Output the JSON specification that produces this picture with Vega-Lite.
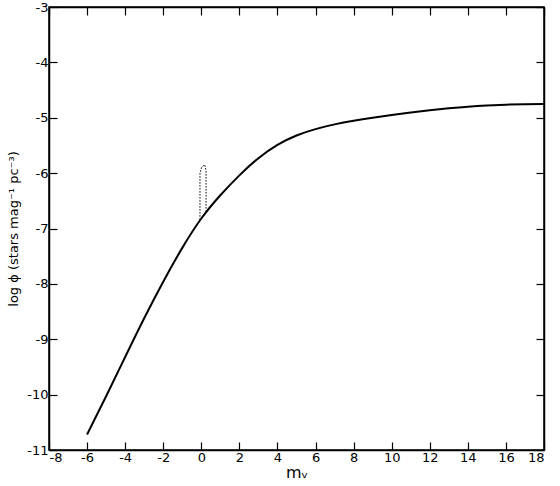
{
  "$schema": "https://vega.github.io/schema/vega-lite/v6.json",
  "autosize": {"type": "none"},
  "width": 495,
  "height": 443,
  "padding": {"left": 49, "top": 7, "right": 16, "bottom": 36},
  "background": "white",
  "config": {
    "view": {"stroke": "black", "strokeWidth": 1.5},
    "axis": {
      "labelFont": "DejaVu Sans",
      "titleFont": "DejaVu Sans",
      "labelFontSize": 13,
      "titleFontSize": 13,
      "titleFontWeight": "normal",
      "labelColor": "black",
      "titleColor": "black",
      "domainColor": "black",
      "tickColor": "black",
      "grid": false,
      "tickSize": -8,
      "tickWidth": 1.2,
      "domainWidth": 1.5,
      "labelExpr": "replace(datum.label, '−', '-')"
    }
  },
  "datasets": {
    "curve": [
      {"mv": -6, "logphi": -10.72},
      {"mv": -5, "logphi": -10.03},
      {"mv": -4, "logphi": -9.32},
      {"mv": -3, "logphi": -8.62},
      {"mv": -2, "logphi": -7.96},
      {"mv": -1, "logphi": -7.35},
      {"mv": 0, "logphi": -6.82},
      {"mv": 1, "logphi": -6.40},
      {"mv": 2, "logphi": -6.04},
      {"mv": 3, "logphi": -5.73},
      {"mv": 4, "logphi": -5.49},
      {"mv": 5, "logphi": -5.32},
      {"mv": 6, "logphi": -5.205},
      {"mv": 7, "logphi": -5.12},
      {"mv": 8, "logphi": -5.055},
      {"mv": 9, "logphi": -5.0},
      {"mv": 10, "logphi": -4.95},
      {"mv": 11, "logphi": -4.905},
      {"mv": 12, "logphi": -4.865},
      {"mv": 13, "logphi": -4.83},
      {"mv": 14, "logphi": -4.80},
      {"mv": 15, "logphi": -4.778},
      {"mv": 16, "logphi": -4.763},
      {"mv": 17, "logphi": -4.754},
      {"mv": 18, "logphi": -4.75}
    ],
    "bump": [
      {"order": 1, "mv": -0.07, "logphi": -6.84},
      {"order": 2, "mv": -0.07, "logphi": -6.0},
      {"order": 3, "mv": 0.02, "logphi": -5.89},
      {"order": 4, "mv": 0.18, "logphi": -5.85},
      {"order": 5, "mv": 0.25, "logphi": -5.95},
      {"order": 6, "mv": 0.25, "logphi": -6.68}
    ]
  },
  "layer": [
    {
      "data": {"name": "curve"},
      "mark": {"type": "line", "color": "black", "strokeWidth": 2, "interpolate": "natural"},
      "encoding": {
        "x": {
          "field": "mv", "type": "quantitative",
          "scale": {"domain": [-8, 18], "nice": false, "zero": false},
          "axis": {"orient": "bottom", "values": [-8,-6,-4,-2,0,2,4,6,8,10,12,14,16,18], "labelPadding": 9, "title": "mᵥ", "titlePadding": 0, "titleFontSize": 16}
        },
        "y": {
          "field": "logphi", "type": "quantitative",
          "scale": {"domain": [-11, -3], "nice": false, "zero": false},
          "axis": {"orient": "left", "values": [-11,-10,-9,-8,-7,-6,-5,-4,-3], "labelPadding": 9, "title": "log ϕ (stars mag⁻¹ pc⁻³)", "titlePadding": 6}
        }
      }
    },
    {
      "data": {"name": "bump"},
      "mark": {"type": "line", "color": "black", "strokeWidth": 1, "strokeDash": [1.5, 1.5]},
      "encoding": {
        "order": {"field": "order", "type": "quantitative"},
        "x": {
          "field": "mv", "type": "quantitative",
          "axis": {"orient": "top", "values": [-8,-6,-4,-2,0,2,4,6,8,10,12,14,16,18], "labels": false, "title": null}
        },
        "y": {
          "field": "logphi", "type": "quantitative",
          "axis": {"orient": "right", "values": [-11,-10,-9,-8,-7,-6,-5,-4,-3], "labels": false, "title": null}
        }
      }
    }
  ],
  "resolve": {"axis": {"x": "independent", "y": "independent"}}
}
